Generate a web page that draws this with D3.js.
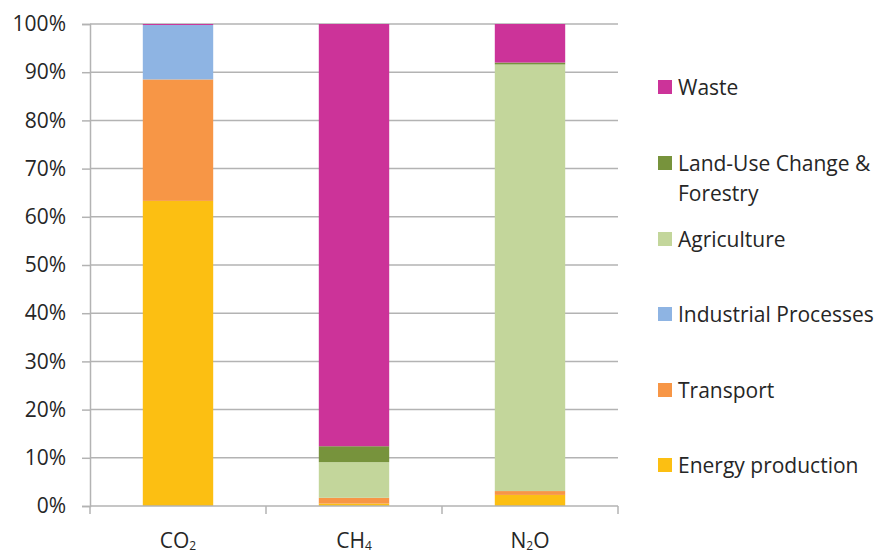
<!DOCTYPE html>
<html>
<head>
<meta charset="utf-8">
<script src="https://cdn.jsdelivr.net/npm/d3@7"></script>
<style>
  body { margin: 0; background: #fff; }
  text { font-family: "Open Sans", sans-serif; fill: #262626; }
</style>
</head>
<body>
<div id="chart"></div>
<script>
// gases on the x axis (base + subscript)
var categories = ["CO2", "CH4", "N2O"];
var catLabels = [["CO", "2", ""], ["CH", "4", ""], ["N", "2", "O"]];

// share of each sector, in percent, bottom to top
var energy      = [63.3, 0.5, 2.3];
var transport   = [25.2, 1.2, 0.8];
var industrial  = [11.3, 0.0, 0.0];
var agriculture = [0.0, 7.4, 88.5];
var landUse     = [0.0, 3.3, 0.4];
var waste       = [0.2, 87.6, 8.0];

var sectors = ["Energy production", "Transport", "Industrial Processes", "Agriculture", "Land-Use Change & Forestry", "Waste"];
var colors  = ["#FCBF12", "#F79646", "#8EB4E3", "#C3D69B", "#77933C", "#CC3399"];
var yTicks  = [0, 0.1, 0.2, 0.3, 0.4, 0.5, 0.6, 0.7, 0.8, 0.9, 1];

var series = [energy, transport, industrial, agriculture, landUse, waste];
var data = categories.map(function(c, i) {
	var row = { cat: c };
	sectors.forEach(function(s, j) { row[s] = series[j][i]; });
	return row;
});

var fontSize = "21px";

var margin = { top: 24, right: 264, bottom: 52, left: 90 },
	width = 882 - margin.left - margin.right,
	height = 558 - margin.top - margin.bottom;

var svg = d3.select("#chart").append("svg")
	.attr("width", 882)
	.attr("height", 558)
	.append("g")
	.attr("transform", "translate(" + margin.left + "," + margin.top + ")");

var x = d3.scaleBand().domain(categories).range([0, width]).paddingInner(0.6).paddingOuter(0.3);
var xb = d3.scaleBand().domain(categories).range([0, width]); // full bands for tick marks
var y = d3.scaleLinear().domain([0, 1]).range([height, 0]);

var stack = d3.stack().keys(sectors).offset(d3.stackOffsetExpand);
var layers = stack(data);

// gridlines
svg.append("g")
	.selectAll("line")
	.data(yTicks.slice(1))
	.enter().append("line")
	.attr("x1", 0)
	.attr("x2", width)
	.attr("y1", function(d) { return y(d); })
	.attr("y2", function(d) { return y(d); })
	.style("stroke", "#B3B3B3")
	.style("stroke-width", 1.5);

// y axis
var yAxis = d3.axisLeft(y)
	.tickValues(yTicks)
	.tickFormat(d3.format(".0%"))
	.tickSize(8)
	.tickPadding(16);

var ya = svg.append("g").call(yAxis);
ya.select(".domain").style("stroke", "#B3B3B3").style("stroke-width", 1.5);
ya.selectAll(".tick line").style("stroke", "#B3B3B3").style("stroke-width", 1.5);
ya.selectAll("text").style("font-size", fontSize).style("font-family", "'Open Sans', sans-serif").style("fill", "#262626");

// bars
svg.selectAll(".layer")
	.data(layers)
	.enter().append("g")
	.attr("class", "layer")
	.style("fill", function(d, i) { return colors[i]; })
	.selectAll("rect")
	.data(function(d) { return d; })
	.enter().append("rect")
	.attr("x", function(d) { return x(d.data.cat); })
	.attr("width", x.bandwidth())
	.attr("y", function(d) { return y(d[1]); })
	.attr("height", function(d) { return y(d[0]) - y(d[1]); });

// x axis baseline + tick marks at category boundaries
svg.append("line")
	.attr("x1", 0).attr("x2", width)
	.attr("y1", height).attr("y2", height)
	.style("stroke", "#B3B3B3").style("stroke-width", 1.5);

var bounds = categories.map(function(c) { return xb(c); }).concat([width]);
svg.append("g")
	.selectAll("line")
	.data(bounds)
	.enter().append("line")
	.attr("x1", function(d) { return d; })
	.attr("x2", function(d) { return d; })
	.attr("y1", height)
	.attr("y2", height + 8)
	.style("stroke", "#B3B3B3").style("stroke-width", 1.5);

// category labels with subscripts
var xl = svg.append("g")
	.selectAll("text")
	.data(categories)
	.enter().append("text")
	.attr("x", function(d) { return x(d) + x.bandwidth() / 2; })
	.attr("y", height + 42)
	.attr("text-anchor", "middle")
	.style("font-size", fontSize);

xl.each(function(d, i) {
	var t = d3.select(this), parts = catLabels[i];
	t.append("tspan").text(parts[0]);
	t.append("tspan").attr("dy", 2).style("font-size", "12px").text(parts[1]);
	if (parts[2]) t.append("tspan").attr("dy", -2).text(parts[2]);
});

// legend, top to bottom is waste first
var legendY = [87, 163, 239, 314, 390, 465];
var legend = svg.append("g")
	.selectAll("g")
	.data(sectors.slice().reverse())
	.enter().append("g")
	.attr("transform", function(d, i) { return "translate(" + (658 - margin.left) + "," + (legendY[i] - margin.top) + ")"; });

legend.append("rect")
	.attr("x", 0)
	.attr("y", -7)
	.attr("width", 14)
	.attr("height", 14)
	.style("fill", function(d) { return colors[sectors.indexOf(d)]; });

legend.append("text")
	.attr("x", 20)
	.attr("y", 7.5)
	.style("font-size", fontSize)
	.each(function(d) {
		var t = d3.select(this);
		if (d === "Land-Use Change & Forestry") {
			t.append("tspan").attr("x", 20).text("Land-Use Change &");
			t.append("tspan").attr("x", 20).attr("dy", 30).text("Forestry");
		} else {
			t.text(d);
		}
	});
</script>
</body>
</html>
